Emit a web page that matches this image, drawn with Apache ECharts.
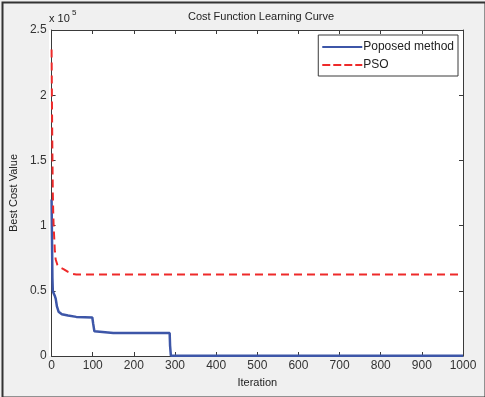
<!DOCTYPE html>
<html>
<head>
<meta charset="utf-8">
<script src="https://cdn.jsdelivr.net/npm/echarts@6/dist/echarts.min.js"></script>
<style>
html,body{margin:0;padding:0;background:#f0f0f0;}
#chart{width:485px;height:397px;}
</style>
</head>
<body>
<div id="chart"></div>
<script>
// proposed method curve (iteration, best cost)
var propIter = [0, 1, 2, 3, 5, 8, 10, 13, 17, 20, 25, 40, 60, 80, 99, 101, 104, 107, 150, 200, 287, 288, 290, 1000];
var propCost = [120000, 90000, 60000, 50000, 48000, 46000, 44000, 38000, 34000, 33000, 32000, 31000, 30000, 29800, 29500, 25000, 19000, 17800, 17700, 17700, 17700, 8000, 200, 200];
// PSO curve
var psoIter = [0, 1, 2, 3, 4, 5, 6, 7, 8, 10, 14, 20, 30, 40, 50, 60, 1000];
var psoCost = [235000, 190000, 155000, 125000, 110000, 100000, 93000, 87000, 80000, 74000, 70000, 68000, 66500, 64500, 63000, 62500, 62500];
var xTicks = [0, 100, 200, 300, 400, 500, 600, 700, 800, 900, 1000];
var yTicks = [0, 0.5, 1, 1.5, 2, 2.5];

function pairs(xs, ys){
  var out = [];
  for (var i = 0; i < xs.length; i++) out.push([xs[i], ys[i]]);
  return out;
}

var font = 'Liberation Sans, Arial, sans-serif';
var axisCol = '#3a3a3a';

var chart = echarts.init(document.getElementById('chart'));
var option = {
  backgroundColor: '#f0f0f0',
  animation: false,
  title: {
    text: 'Cost Function Learning Curve',
    left: 256, top: 6, textAlign: 'center',
    textStyle: {fontFamily: font, fontSize: 11, fontWeight: 'normal', color: '#222'}
  },
  graphic: [
    {type: 'rect', left: 0, top: 0, shape: {width: 483, height: 395}, style: {fill: 'none', stroke: '#333', lineWidth: 2}},
    {type: 'rect', left: 49, top: 30, z: -1, shape: {width: 414, height: 326}, style: {fill: '#ffffff'}},
    {type: 'text', left: 49, top: 13, style: {text: 'x 10', font: '11px ' + font, fill: '#222'}},
    {type: 'text', left: 72, top: 9, style: {text: '5', font: '8px ' + font, fill: '#222'}}
  ],
  legend: {
    orient: 'vertical',
    right: 27, top: 35,
    backgroundColor: '#fff',
    borderColor: axisCol, borderWidth: 1,
    padding: [6, 4, 5, 4],
    itemGap: 6,
    itemWidth: 40, itemHeight: 10,
    textStyle: {fontFamily: font, fontSize: 12, color: '#222', padding: [0, 0, 0, -4]},
    data: [
      {name: 'Poposed method', icon: 'path://M0,4 L40,4 L40,6 L0,6 Z'},
      {name: 'PSO', icon: 'path://M0,4 L8,4 L8,6 L0,6 Z M11,4 L19,4 L19,6 L11,6 Z M22,4 L30,4 L30,6 L22,6 Z M33,4 L40,4 L40,6 L33,6 Z'}
    ]
  },
  grid: {left: 49, right: 22, top: 30, bottom: 41, containLabel: false},
  xAxis: [{
    type: 'value', min: 0, max: 1000, interval: 100,
    name: 'Iteration', nameLocation: 'middle', nameGap: 21,
    nameTextStyle: {fontFamily: font, fontSize: 11, color: '#222'},
    axisLine: {show: true, onZero: false, lineStyle: {color: axisCol, width: 1}},
    axisTick: {show: true, inside: true, length: 4, lineStyle: {color: axisCol}},
    axisLabel: {fontFamily: font, fontSize: 12, color: '#333', margin: 4, formatter: function(v){ return xTicks.indexOf(v) >= 0 ? String(v) : ''; }},
    splitLine: {show: false}
  }, {
    type: 'value', position: 'top', min: 0, max: 1000, interval: 100,
    axisLine: {show: true, onZero: false, lineStyle: {color: axisCol, width: 1}},
    axisTick: {show: true, inside: true, length: 4, lineStyle: {color: axisCol}},
    axisLabel: {show: false}, splitLine: {show: false}
  }],
  yAxis: [{
    type: 'value', min: 0, max: 250000, interval: 50000,
    name: 'Best Cost Value', nameLocation: 'middle', nameGap: 32,
    nameTextStyle: {fontFamily: font, fontSize: 11, color: '#222'},
    axisLine: {show: true, onZero: false, lineStyle: {color: axisCol, width: 1}},
    axisTick: {show: true, inside: true, length: 4, lineStyle: {color: axisCol}},
    axisLabel: {fontFamily: font, fontSize: 12, color: '#333', margin: 5, formatter: function(v){ return String(yTicks[Math.round(v / 50000)]); }},
    splitLine: {show: false}
  }, {
    type: 'value', position: 'right', min: 0, max: 250000, interval: 50000,
    axisLine: {show: true, onZero: false, lineStyle: {color: axisCol, width: 1}},
    axisTick: {show: true, inside: true, length: 4, lineStyle: {color: axisCol}},
    axisLabel: {show: false}, splitLine: {show: false}
  }],
  series: [{
    name: 'Poposed method', type: 'line', showSymbol: false, symbol: 'none',
    data: pairs(propIter, propCost),
    itemStyle: {color: '#3d56a8'},
    lineStyle: {color: '#3d56a8', width: 2.5}
  }, {
    name: 'PSO', type: 'line', showSymbol: false, symbol: 'none',
    data: pairs(psoIter, psoCost),
    itemStyle: {color: '#ee2a2a'},
    lineStyle: {color: '#ee2a2a', width: 2, type: [8, 5]}
  }]
};
chart.setOption(option);
</script>
</body>
</html>
